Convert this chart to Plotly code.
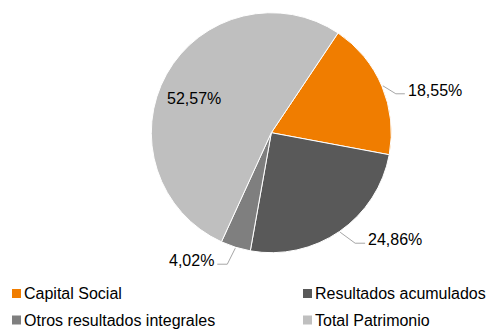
import math
import plotly.graph_objects as go

# Composición del patrimonio (%)
categorias = ["Capital Social", "Resultados acumulados",
              "Otros resultados integrales", "Total Patrimonio"]
porcentajes = [18.55, 24.86, 4.02, 52.57]
colores = ["#F07D00", "#595959", "#7F7F7F", "#BFBFBF"]

W, H = 488, 329
CX, CY, R = 271.3, 132.7, 120.0   # centro y radio del pastel (px)
ROTACION = 33.8                   # inicio del primer sector, grados desde las 12

FUENTE = "Liberation Sans, Arial, sans-serif"
GRIS_GUIA = "#A6A6A6"


def fx(px):
    return px / W


def fy(py):
    return 1 - py / H


def etiqueta(v):
    return f"{v:.2f}".replace(".", ",") + "%"


fig = go.Figure(go.Pie(
    labels=categorias,
    values=porcentajes,
    sort=False,
    direction="clockwise",
    rotation=ROTACION,
    marker=dict(colors=colores, line=dict(color="#FFFFFF", width=1)),
    textinfo="none",
    hoverinfo="label+percent",
    showlegend=False,
    domain=dict(x=[fx(CX - R), fx(CX + R)], y=[fy(CY + R), fy(CY - R)]),
))

# Ubicación de cada rótulo: (tipo, codo dx, codo dy, largo horizontal, ajuste vertical del texto)
estilo_rotulo = [
    ("fuera", 13, 8, 9, -3),
    ("fuera", 15, 11, 10, -4),
    ("fuera", -8, 16, -10, -4),
    ("dentro", -2, 8, 0, 0),
]

anotaciones = []
formas = []
total = sum(porcentajes)
acum = 0.0
for v, (tipo, ddx, ddy, largo, ajuste) in zip(porcentajes, estilo_rotulo):
    medio = math.radians(ROTACION + 360 * (acum + v / 2) / total)
    acum += v
    sx, sy = math.sin(medio), -math.cos(medio)
    texto = etiqueta(v)
    if tipo == "dentro":
        px, py = CX + 0.72 * R * sx + ddx, CY + 0.72 * R * sy + ddy
        anotaciones.append(dict(x=fx(px), y=fy(py), text=texto, showarrow=False,
                                xanchor="center", yanchor="middle"))
        continue
    x0, y0 = CX + (R + 1) * sx, CY + (R + 1) * sy
    x1, y1 = x0 + ddx, y0 + ddy
    x2 = x1 + largo
    for a, b, c, d in ((x0, y0, x1, y1), (x1, y1, x2, y1)):
        formas.append(dict(type="line", xref="paper", yref="paper",
                           x0=fx(a), y0=fy(b), x1=fx(c), y1=fy(d),
                           line=dict(color=GRIS_GUIA, width=1)))
    derecha = largo > 0
    anotaciones.append(dict(x=fx(x2 + (1 if derecha else -1)), y=fy(y1 + ajuste),
                            text=texto, showarrow=False,
                            xanchor="left" if derecha else "right",
                            yanchor="middle"))

# Leyenda en dos columnas
col_x = [12, 303]
fila_y = [293.5, 320.0]
for i, (nombre, color) in enumerate(zip(categorias, colores)):
    lx = col_x[i % 2]
    ly = fila_y[i // 2]
    formas.append(dict(type="rect", xref="paper", yref="paper",
                       x0=fx(lx), x1=fx(lx + 9), y0=fy(ly - 4.5), y1=fy(ly + 4.5),
                       fillcolor=color, line=dict(width=0)))
    anotaciones.append(dict(x=fx(lx + 10), y=fy(ly), text=nombre, showarrow=False,
                            xanchor="left", yanchor="middle"))

fig.update_layout(
    width=W, height=H,
    margin=dict(l=0, r=0, t=0, b=0),
    paper_bgcolor="#FFFFFF",
    plot_bgcolor="#FFFFFF",
    font=dict(family=FUENTE, size=16, color="#000000"),
    annotations=anotaciones,
    shapes=formas,
)

fig.write_html("out.html")
